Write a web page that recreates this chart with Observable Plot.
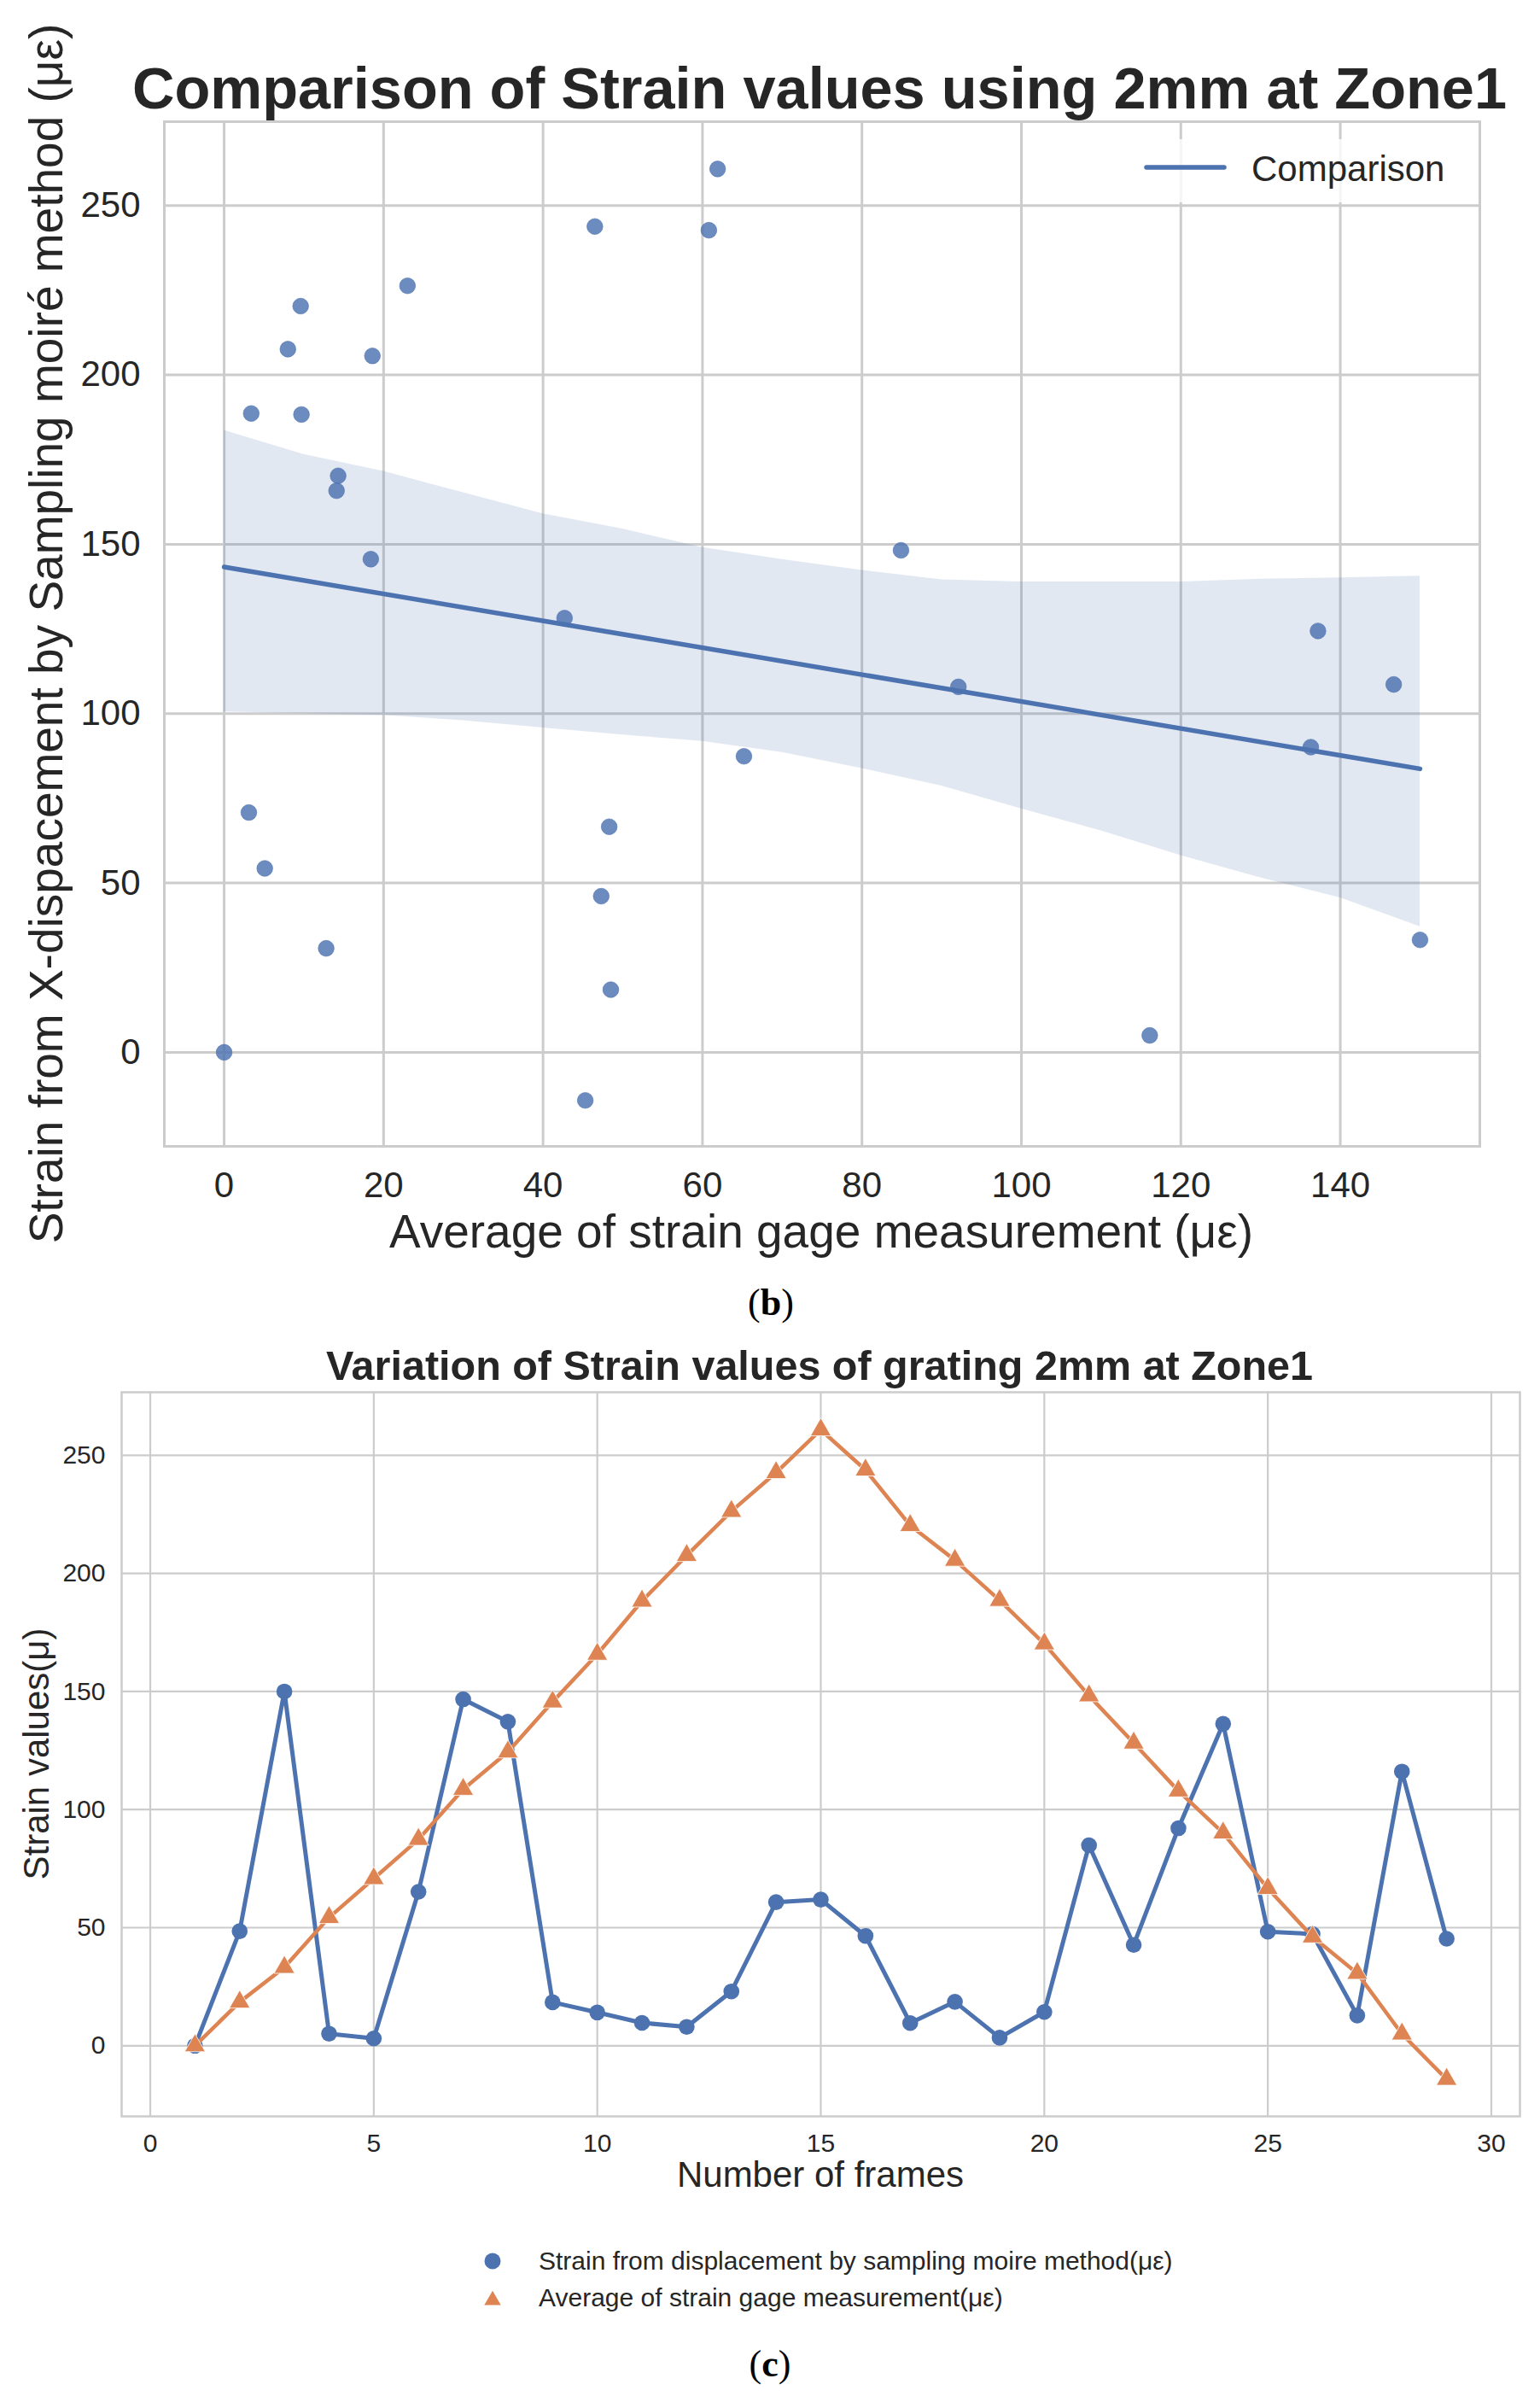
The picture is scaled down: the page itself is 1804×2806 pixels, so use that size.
<!DOCTYPE html>
<html><head><meta charset="utf-8">
<script src="https://cdn.jsdelivr.net/npm/d3@7"></script>
<script src="https://cdn.jsdelivr.net/npm/@observablehq/plot@0.6"></script>
<style>
html,body{margin:0;padding:0;background:#fff;overflow:hidden;}
#page{width:1804px;height:2806px;position:relative;overflow:hidden;background:#fff;}
#page svg{display:block;}
</style></head><body><div id="page"></div>
<script>
const FONT = "'Liberation Sans', Arial, Helvetica, sans-serif";
const SERIF = "'Liberation Serif', 'Times New Roman', serif";
const INK = "#262626";
const BLUE = "#4C72B0", ORANGE = "#DD8452", GRID = "#cccccc";

// ---- data ----
const frames = [1,2,3,4,5,6,7,8,9,10,11,12,13,14,15,16,17,18,19,20,21,22,23,24,25,26,27,28,29];
const moire = [0, 48.5, 150, 5.1, 3.1, 65.2, 146.7, 137.2, 18.4, 14.1, 9.7, 8.0, 23.0, 60.8, 61.9, 46.5, 9.6, 18.6, 3.4, 14.3, 84.9, 42.7, 92.1, 136.3, 48.3, 47.3, 12.8, 116.1, 45.3];
const gage = [0, 18.5, 33.2, 54.3, 70.8, 87.4, 108.6, 124.4, 145.6, 165.8, 188.3, 207.6, 226.3, 242.7, 260.8, 243.8, 220.3, 205.6, 188.6, 170.2, 148.2, 128.2, 107.9, 90.1, 66.6, 46.1, 30.7, 5.0, -14.2];

// bootstrap confidence band
const bandX =    [0, 10, 20, 30, 40, 50, 60, 70, 80, 90, 100, 110, 120, 130, 140, 150];
const bandHigh = [183.6, 176.5, 171.5, 165.2, 159, 154.5, 149, 145.5, 142.3, 139.5, 138.9, 138.9, 138.9, 139.7, 140.1, 140.6];
const bandLow =  [100.5, 100, 99.5, 97.9, 95.8, 93.7, 91.8, 88.5, 83.8, 78.6, 71.9, 65.4, 58.1, 51.5, 45.6, 37.1];

const topXTicks = [0, 20, 40, 60, 80, 100, 120, 140];
const topYTicks = [0, 50, 100, 150, 200, 250];
const botXTicks = [0, 5, 10, 15, 20, 25, 30];
const botYTicks = [0, 50, 100, 150, 200, 250];

const topTitle = "Comparison of Strain values using 2mm at Zone1";
const topXLabel = "Average of strain gage measurement (με)";
const topYLabel = "Strain from X-dispacement by Sampling moiré method (με)";
const topLegend = "Comparison";
const botTitle = "Variation of Strain values of grating 2mm at Zone1";
const botXLabel = "Number of frames";
const botYLabel = "Strain values(μ)";
const seriesNames = ["Strain from displacement by sampling moire method(με)", "Average of strain gage measurement(με)"];

const pts = moire.map((m, i) => ({x: m, y: gage[i]}));
const series = frames.map((f, i) => ({frame: f, moire: moire[i], gage: gage[i]}));
const band = bandX.map((x, i) => ({x, lo: bandLow[i], hi: bandHigh[i]}));

const page = document.getElementById("page");

function txt(sel, x, y, str, size, opts = {}) {
  const t = sel.append("text")
    .attr("x", x).attr("y", y)
    .attr("text-anchor", opts.anchor || "start")
    .attr("font-family", opts.family || FONT)
    .attr("font-size", size)
    .attr("font-weight", opts.weight || "normal")
    .attr("fill", opts.fill || INK);
  if (opts.transform) t.attr("transform", opts.transform);
  if (str != null) t.text(str);
  return t;
}

// ---- top chart (b) ----
const svgTop = Plot.plot({
  width: 1804, height: 1480,
  marginLeft: 192, marginRight: 71, marginTop: 142, marginBottom: 138,
  x: {domain: [-7.5, 157.5]},
  y: {domain: [-27.75, 274.75]},
  style: {fontFamily: FONT, color: INK, background: "white"},
  marks: [
    Plot.gridX(topXTicks, {stroke: GRID, strokeOpacity: 1, strokeWidth: 3}),
    Plot.gridY(topYTicks, {stroke: GRID, strokeOpacity: 1, strokeWidth: 3}),
    Plot.areaY(band, {x: "x", y1: "lo", y2: "hi", fill: BLUE, fillOpacity: 0.16}),
    Plot.dot(pts, {x: "x", y: "y", r: 9.3, fill: BLUE, fillOpacity: 0.82, stroke: BLUE, strokeOpacity: 0.6, strokeWidth: 1}),
    Plot.linearRegressionY(pts, {x: "x", y: "y", ci: 0, stroke: BLUE, strokeWidth: 5.5}),
    Plot.frame({stroke: GRID, strokeWidth: 3}),
    Plot.axisX(topXTicks, {tickSize: 0, tickPadding: 30, fontSize: 42, label: null, fill: INK}),
    Plot.axisY(topYTicks, {tickSize: 0, tickPadding: 28, fontSize: 42, label: null, fill: INK})
  ]
});
page.appendChild(svgTop);
{
  const s = d3.select(svgTop);
  txt(s, 960, 127, topTitle, 68.5, {anchor: "middle", weight: "bold"});
  txt(s, 962, 1461, topXLabel, 55, {anchor: "middle"});
  txt(s, 0, 0, topYLabel, 55, {anchor: "middle", transform: "translate(73,742) rotate(-90)"});
  // legend
  s.append("rect").attr("x", 1318).attr("y", 163).attr("width", 400).attr("height", 74)
    .attr("fill", "white").attr("fill-opacity", 0.8);
  s.append("line").attr("x1", 1343).attr("x2", 1434).attr("y1", 196).attr("y2", 196)
    .attr("stroke", BLUE).attr("stroke-width", 5.5).attr("stroke-linecap", "round");
  txt(s, 1466, 212, topLegend, 42);
}

// ---- bottom chart (c) ----
const svgBot = Plot.plot({
  width: 1804, height: 1326,
  marginLeft: 142, marginRight: 24, marginTop: 150, marginBottom: 328,
  x: {domain: [-0.64, 30.64]},
  y: {domain: [-29.9, 276.7]},
  style: {fontFamily: FONT, color: INK, background: "white"},
  marks: [
    Plot.gridX(botXTicks, {stroke: GRID, strokeOpacity: 1, strokeWidth: 2.2}),
    Plot.gridY(botYTicks, {stroke: GRID, strokeOpacity: 1, strokeWidth: 2.2}),
    Plot.frame({stroke: GRID, strokeWidth: 2.5}),
    Plot.line(series, {x: "frame", y: "moire", stroke: BLUE, strokeWidth: 5}),
    Plot.dot(series, {x: "frame", y: "moire", r: 9.3, fill: BLUE, stroke: null}),
    Plot.line(series, {x: "frame", y: "gage", stroke: ORANGE, strokeWidth: 4.5}),
    Plot.dot(series, {x: "frame", y: "gage", r: 9, symbol: "triangle", fill: ORANGE, stroke: "white", strokeWidth: 0.8}),
    Plot.axisX(botXTicks, {tickSize: 0, tickPadding: 20, fontSize: 30, label: null, fill: INK}),
    Plot.axisY(botYTicks, {tickSize: 0, tickPadding: 19, fontSize: 30, label: null, fill: INK})
  ]
});
page.appendChild(svgBot);
{
  const s = d3.select(svgBot);
  // (b) panel label
  const tb = txt(s, 903, 60, null, 44, {anchor: "middle", family: SERIF, fill: "#000"});
  tb.append("tspan").text("(");
  tb.append("tspan").attr("font-weight", "bold").text("b");
  tb.append("tspan").text(")");

  txt(s, 960, 136, botTitle, 48.5, {anchor: "middle", weight: "bold"});
  txt(s, 961, 1081, botXLabel, 42, {anchor: "middle"});
  txt(s, 0, 0, botYLabel, 42, {anchor: "middle", transform: "translate(57,574) rotate(-90)"});

  // legend
  s.append("circle").attr("cx", 577).attr("cy", 1168).attr("r", 9.5).attr("fill", BLUE);
  s.append("path").attr("transform", "translate(577,1214)")
    .attr("d", d3.symbol(d3.symbolTriangle2, 270)()).attr("fill", ORANGE);
  txt(s, 631, 1178, seriesNames[0], 30);
  txt(s, 631, 1221, seriesNames[1], 30);

  // (c) panel label
  const tc = txt(s, 902, 1303, null, 44, {anchor: "middle", family: SERIF, fill: "#000"});
  tc.append("tspan").text("(");
  tc.append("tspan").attr("font-weight", "bold").text("c");
  tc.append("tspan").text(")");
}
</script></body></html>
